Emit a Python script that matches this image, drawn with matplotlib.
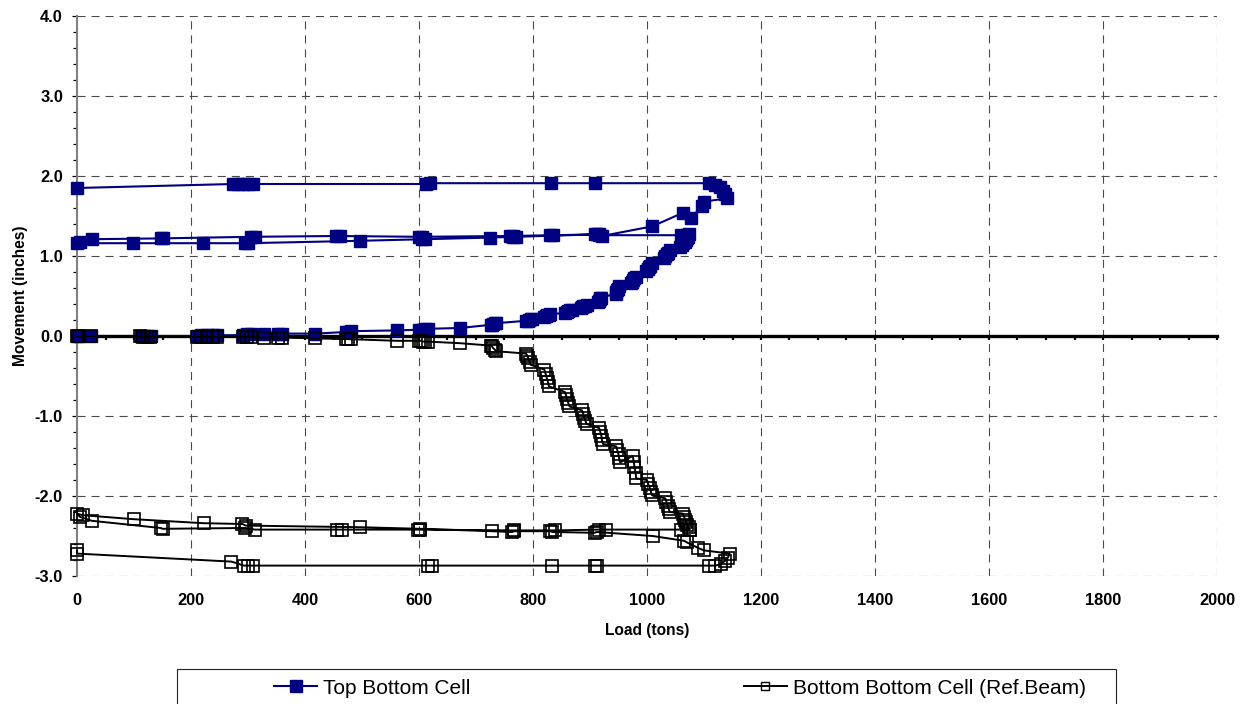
import matplotlib
matplotlib.use("Agg")
import matplotlib.pyplot as plt
from matplotlib.lines import Line2D
from matplotlib.patches import Rectangle
from matplotlib.ticker import MultipleLocator, FormatStrFormatter

plt.rcParams['font.family'] = ['Liberation Sans', 'DejaVu Sans']
plt.rcParams['axes.unicode_minus'] = False
plt.rcParams['lines.scale_dashes'] = False

# Top Bottom Cell: load (tons) and movement (inches), in test order
top_load = [0, 3, 25, 112, 118, 125, 130, 210, 218, 228, 238, 246, 291, 298, 306,
            328, 352, 360, 418, 472, 476, 480, 561, 600, 604, 607, 611, 615, 672,
            726, 728, 730, 733, 735, 788, 791, 793, 796, 798, 820, 822, 825, 828, 830,
            856, 859, 862, 865, 868, 884, 886, 888, 891, 894, 914, 915, 917, 918, 920,
            945, 946, 947, 949, 950, 972, 974, 976, 978, 980, 999, 1001, 1003, 1005, 1008,
            1030, 1032, 1035, 1037, 1040, 1058, 1061, 1063, 1066, 1068, 1070, 1072, 1074,
            1070, 1060, 916, 912, 835, 830, 765, 760, 605, 600, 462, 455, 312, 305,
            150, 147, 26, 5,
            0, 98, 221, 295, 300, 496, 605, 610, 724, 765, 770, 908, 916, 921,
            1009, 1063, 1078, 1096, 1100, 1140, 1137, 1133, 1128, 1120, 1108,
            909, 831, 620, 612, 309, 300, 292, 282, 274, 0]
top_move = [0.00, 0.00, 0.00, 0.00, 0.00, 0.00, 0.00, 0.00, 0.01, 0.01, 0.01, 0.01, 0.01, 0.02, 0.02,
            0.02, 0.03, 0.03, 0.03, 0.05, 0.05, 0.06, 0.07, 0.08, 0.08, 0.08, 0.09, 0.09, 0.10,
            0.14, 0.14, 0.15, 0.16, 0.16, 0.19, 0.19, 0.20, 0.21, 0.21, 0.24, 0.25, 0.26, 0.26, 0.27,
            0.29, 0.30, 0.31, 0.32, 0.33, 0.35, 0.36, 0.37, 0.38, 0.39, 0.43, 0.44, 0.46, 0.47, 0.48,
            0.53, 0.55, 0.57, 0.59, 0.62, 0.66, 0.68, 0.70, 0.72, 0.74, 0.81, 0.84, 0.86, 0.88, 0.91,
            0.97, 1.00, 1.02, 1.04, 1.07, 1.11, 1.14, 1.16, 1.18, 1.20, 1.22, 1.24, 1.27,
            1.26, 1.26, 1.26, 1.27, 1.26, 1.26, 1.25, 1.25, 1.24, 1.24, 1.25, 1.25, 1.24, 1.24,
            1.22, 1.22, 1.21, 1.18,
            1.16, 1.16, 1.16, 1.16, 1.16, 1.19, 1.21, 1.21, 1.23, 1.24, 1.24, 1.27, 1.28, 1.25,
            1.37, 1.54, 1.48, 1.62, 1.68, 1.72, 1.77, 1.81, 1.86, 1.89, 1.91,
            1.91, 1.91, 1.91, 1.90, 1.90, 1.90, 1.90, 1.90, 1.90, 1.85]

# Bottom Bottom Cell (Ref.Beam): load (tons) and movement (inches), in test order
bot_load = [0, 3, 25, 110, 116, 122, 128, 210, 218, 228, 238, 246, 291, 298, 306,
            328, 352, 360, 418, 472, 476, 480, 561, 600, 604, 607, 611, 615, 672,
            726, 728, 730, 733, 735, 788, 790, 792, 794, 796, 820, 822, 824, 826, 828,
            856, 858, 860, 862, 864, 886, 888, 890, 892, 894, 916, 918, 920, 921, 923,
            946, 948, 950, 951, 953, 975, 977, 978, 980, 981, 1000, 1002, 1005, 1007, 1009,
            1032, 1034, 1036, 1038, 1040, 1063, 1065, 1067, 1069, 1071, 1073, 1075,
            1075, 1060, 928, 916, 838, 767, 602, 598, 465, 457, 312, 295, 150, 147,
            26, 5,
            0, 10, 100, 222, 290, 296, 496, 602, 728, 763, 767, 830, 834, 908, 912,
            1010, 1065, 1070, 1090, 1100, 1145, 1142, 1137, 1130, 1120, 1108,
            912, 908, 834, 622, 616, 308, 300, 293, 271, 0, 0]
bot_move = [0.00, 0.00, 0.00, 0.00, -0.01, -0.01, -0.01, -0.01, -0.01, -0.01, -0.01, -0.01, -0.01, -0.01, -0.01,
            -0.02, -0.02, -0.02, -0.03, -0.04, -0.04, -0.04, -0.06, -0.06, -0.06, -0.07, -0.07, -0.07, -0.09,
            -0.12, -0.13, -0.15, -0.17, -0.19, -0.22, -0.25, -0.28, -0.32, -0.36, -0.42, -0.47, -0.52, -0.57, -0.63,
            -0.70, -0.74, -0.79, -0.84, -0.88, -0.93, -0.97, -1.02, -1.06, -1.10, -1.15, -1.20, -1.25, -1.30, -1.35,
            -1.38, -1.43, -1.48, -1.53, -1.58, -1.50, -1.58, -1.64, -1.71, -1.78, -1.80, -1.85, -1.90, -1.95, -1.99,
            -2.03, -2.07, -2.12, -2.16, -2.20, -2.22, -2.26, -2.30, -2.33, -2.36, -2.39, -2.42,
            -2.42, -2.42, -2.42, -2.42, -2.43, -2.43, -2.42, -2.42, -2.42, -2.42, -2.42, -2.40, -2.41, -2.40,
            -2.31, -2.26,
            -2.22, -2.24, -2.29, -2.34, -2.35, -2.37, -2.39, -2.41, -2.44, -2.45, -2.44, -2.44, -2.45, -2.46, -2.45,
            -2.50, -2.56, -2.58, -2.65, -2.68, -2.72, -2.77, -2.81, -2.85, -2.87, -2.87,
            -2.87, -2.87, -2.87, -2.87, -2.87, -2.87, -2.87, -2.87, -2.82, -2.72, -2.68]

series_names = ['Top Bottom Cell', 'Bottom Bottom Cell (Ref.Beam)']
x_ticks = list(range(0, 2001, 200))
y_ticks = [-3.0, -2.0, -1.0, 0.0, 1.0, 2.0, 3.0, 4.0]

NAVY = '#000080'
W, H = 1245, 704
fig = plt.figure(figsize=(W / 100, H / 100), dpi=100)
ax = fig.add_axes([77 / W, 1 - 576 / H, 1140 / W, 560 / H])

ax.set_xlim(0, 2000)
ax.set_ylim(-3, 4)

# dashed grid on the major ticks, including the outer edges
grid_kw = dict(color='#4a4a4a', lw=0.8, ls=(0, (5.8, 4.3)), zorder=1)
for xv in x_ticks[1:]:
    ax.axvline(xv, **grid_kw)
for yv in y_ticks:
    ax.axhline(yv, **grid_kw)

ax.plot(top_load, top_move, color=NAVY, lw=1.5, marker='s', ms=8.2,
        mfc=NAVY, mec=NAVY, mew=1.0, clip_on=False, zorder=3)
ax.plot(bot_load, bot_move, color='black', lw=1.4, marker='s', ms=8.0,
        mfc='none', mec='black', mew=1.2, clip_on=False, zorder=4)

# spines: grey value axis on the left, heavy category axis crossing at zero
for s in ('top', 'right'):
    ax.spines[s].set_visible(False)
ax.spines['left'].set_color('#808080')
ax.spines['left'].set_linewidth(1.5)
ax.spines['left'].set_zorder(2)
ax.spines['bottom'].set_position(('data', 0))
ax.spines['bottom'].set_linewidth(2.4)
ax.spines['bottom'].set_zorder(2.5)

ax.xaxis.set_major_locator(MultipleLocator(200))
ax.xaxis.set_minor_locator(MultipleLocator(50))
ax.tick_params(axis='x', which='both', direction='out', length=3.2, width=1.6,
               labelbottom=False, color='black')

ax.yaxis.set_major_locator(MultipleLocator(1.0))
ax.yaxis.set_minor_locator(MultipleLocator(0.2))
ax.yaxis.set_major_formatter(FormatStrFormatter('%.1f'))
ax.tick_params(axis='y', which='major', direction='out', length=3.6, width=0.9,
               pad=6.5, labelsize=11.8, color='black')
ax.tick_params(axis='y', which='minor', direction='out', length=3.0, width=0.9,
               color='black')
for lab in ax.get_yticklabels():
    lab.set_fontweight('bold')
ax.set_ylabel('Movement (inches)', fontsize=11.2, fontweight='bold')
ax.yaxis.set_label_coords(-0.043, 0.5)

ax.set_xlabel('Load (tons)', fontsize=11.2, fontweight='bold')
ax.xaxis.set_label_coords(0.5, -0.084)

# category labels along the bottom edge of the plot
sec = ax.secondary_xaxis('bottom')
sec.set_xticks(x_ticks)
sec.tick_params(axis='x', length=0, pad=12, labelsize=11.8)
for lab in sec.get_xticklabels():
    lab.set_fontweight('bold')
sec.spines['bottom'].set_visible(False)

# legend: framed strip below the plot
fig.add_artist(Rectangle((177 / W, -0.02), 939 / W, (704 - 669) / H + 0.02,
                         transform=fig.transFigure, fill=False,
                         edgecolor='#222222', lw=0.8))
handles = [
    Line2D([], [], color=NAVY, lw=1.5, marker='s', ms=8.2, mfc=NAVY, mec=NAVY),
    Line2D([], [], color='black', lw=1.4, marker='s', ms=6.0, mfc='none', mec='black', mew=1.0),
]
fig.legend(handles, series_names, ncol=2, frameon=False, loc='center left',
           bbox_to_anchor=(274 / W, 1 - 688 / H), borderpad=0, borderaxespad=0,
           fontsize=15, handlelength=2.07, handletextpad=0.3, columnspacing=13.1)

fig.savefig('out.png', dpi=100)
